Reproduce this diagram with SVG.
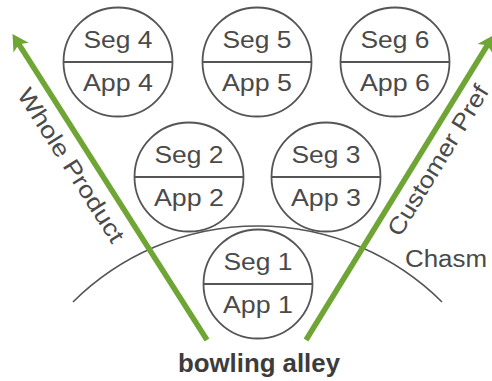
<svg xmlns="http://www.w3.org/2000/svg" width="492" height="381" viewBox="0 0 492 381">
  <style>
    .ring { fill: #ffffff; stroke: #555555; stroke-width: 1.8; }
    .split { stroke: #555555; stroke-width: 1.8; }
    .lbl { font-family: "Liberation Sans", Arial, sans-serif; font-size: 24.5px; fill: #4a4a4a; text-anchor: middle; }
    .side { font-family: "Liberation Sans", Arial, sans-serif; font-size: 23.5px; fill: #4a4a4a; }
    .title { font-family: "Liberation Sans", Arial, sans-serif; font-size: 25px; font-weight: bold; fill: #3c3c3c; text-anchor: middle; }
    .chasm { fill: none; stroke: #555555; stroke-width: 1.6; }
    .trend { stroke: #6fa535; stroke-width: 5.5; fill: none; }
  </style>
  <defs>
    <marker id="head" markerUnits="userSpaceOnUse" markerWidth="30" markerHeight="30" viewBox="-10 -15 30 30" refX="0" refY="0" orient="auto" overflow="visible">
      <path d="M11,0 L-5,-9 L-1,0 L-5,9 Z" fill="#6fa535"/>
    </marker>
  </defs>

  <rect width="492" height="381" fill="#ffffff"/>

  <!-- chasm curve -->
  <path class="chasm" d="M73,302 A262,262 0 0 1 442,302"/>

  <!-- segment / application circles -->
  <g id="seg4">
    <circle class="ring" cx="118" cy="62" r="54.5"/>
    <line class="split" x1="63.5" y1="62" x2="172.5" y2="62"/>
    <text class="lbl" x="118" y="48" textLength="69" lengthAdjust="spacingAndGlyphs">Seg 4</text>
    <text class="lbl" x="118" y="91" textLength="70" lengthAdjust="spacingAndGlyphs">App 4</text>
  </g>
  <g id="seg5">
    <circle class="ring" cx="257" cy="62" r="54.5"/>
    <line class="split" x1="202.5" y1="62" x2="311.5" y2="62"/>
    <text class="lbl" x="257" y="48" textLength="69" lengthAdjust="spacingAndGlyphs">Seg 5</text>
    <text class="lbl" x="257" y="91" textLength="70" lengthAdjust="spacingAndGlyphs">App 5</text>
  </g>
  <g id="seg6">
    <circle class="ring" cx="395" cy="62" r="54.5"/>
    <line class="split" x1="340.5" y1="62" x2="449.5" y2="62"/>
    <text class="lbl" x="395" y="48" textLength="69" lengthAdjust="spacingAndGlyphs">Seg 6</text>
    <text class="lbl" x="395" y="91" textLength="70" lengthAdjust="spacingAndGlyphs">App 6</text>
  </g>
  <g id="seg2">
    <circle class="ring" cx="189" cy="177" r="54.5"/>
    <line class="split" x1="134.5" y1="177" x2="243.5" y2="177"/>
    <text class="lbl" x="189" y="163" textLength="69" lengthAdjust="spacingAndGlyphs">Seg 2</text>
    <text class="lbl" x="189" y="206" textLength="70" lengthAdjust="spacingAndGlyphs">App 2</text>
  </g>
  <g id="seg3">
    <circle class="ring" cx="326" cy="177" r="54.5"/>
    <line class="split" x1="271.5" y1="177" x2="380.5" y2="177"/>
    <text class="lbl" x="326" y="163" textLength="69" lengthAdjust="spacingAndGlyphs">Seg 3</text>
    <text class="lbl" x="326" y="206" textLength="70" lengthAdjust="spacingAndGlyphs">App 3</text>
  </g>
  <g id="seg1">
    <circle class="ring" cx="258" cy="284" r="54.5"/>
    <line class="split" x1="203.5" y1="284" x2="312.5" y2="284"/>
    <text class="lbl" x="258" y="270" textLength="69" lengthAdjust="spacingAndGlyphs">Seg 1</text>
    <text class="lbl" x="258" y="313" textLength="70" lengthAdjust="spacingAndGlyphs">App 1</text>
  </g>

  <!-- growth directions -->
  <g id="connectors">
    <line class="trend" x1="207" y1="340" x2="18.4" y2="43.4" marker-end="url(#head)"/>
    <line class="trend" x1="306" y1="340" x2="487.8" y2="44.5" marker-end="url(#head)"/>
  </g>

  <!-- axis labels -->
  <text class="side" transform="translate(16.5,94.5) rotate(57.5)" textLength="178" lengthAdjust="spacingAndGlyphs">Whole Product</text>
  <text class="side" transform="translate(400,238) rotate(-58.6)" textLength="172" lengthAdjust="spacingAndGlyphs">Customer Pref</text>
  <text class="side" x="405" y="267" textLength="82" lengthAdjust="spacingAndGlyphs">Chasm</text>
  <text class="title" x="259" y="372" textLength="162" lengthAdjust="spacingAndGlyphs">bowling alley</text>
</svg>
